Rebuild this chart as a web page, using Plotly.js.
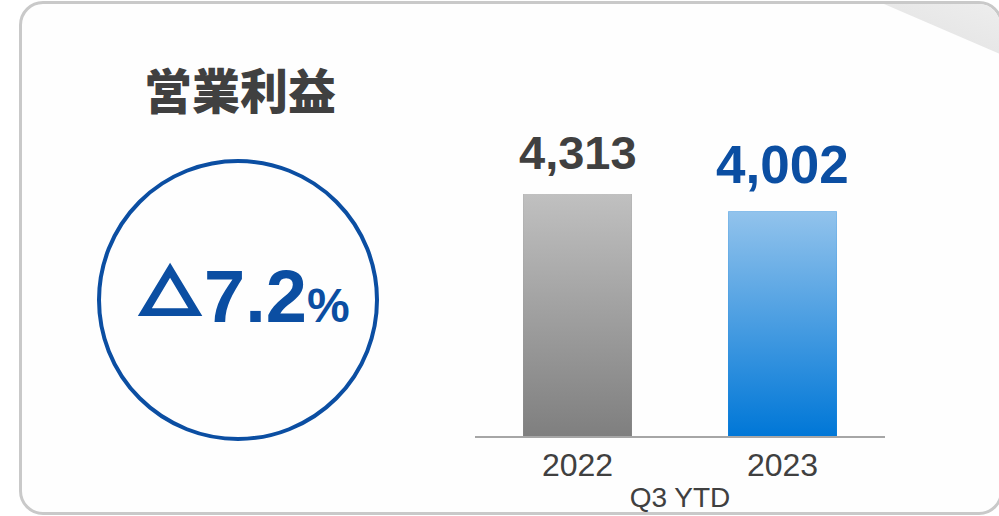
<!DOCTYPE html>
<html>
<head>
<meta charset="utf-8">
<script src="https://cdn.plot.ly/plotly-3.0.1.min.js"></script>
<style>
  html, body { margin:0; padding:0; background:#ffffff; width:999px; height:516px; overflow:hidden; }
  #card { position:absolute; left:19px; top:1px; width:984px; height:514px; box-sizing:border-box;
          border:3px solid #c9c9c9; border-radius:24px; background:#fefefe; overflow:hidden; }
  #curl { position:absolute; left:862px; top:0; width:130px; height:56px;
          clip-path: polygon(0 0, 100% 0, 100% 100%);
          background: linear-gradient(200deg, #eeeeee 0%, #e6e6e6 60%, #e0e0e0 100%); }
  #chart { position:absolute; left:0; top:0; width:999px; height:516px; }
</style>
</head>
<body>
<div id="card"><div id="curl"></div></div>
<div id="chart"></div>
<script>
// ---- data ----
const categories = ['2022', '2023'];
const values = [4313, 4002];
const chartTitle = '営業利益';
const axisTitle = 'Q3 YTD';
const changeLabel = ['△', '7.2', '%'];

// ---- styles ----
const FONT = 'Arial, "Liberation Sans", sans-serif';
const CJK = '"Noto Sans CJK JP", "Noto Sans CJK SC", sans-serif';
const BLUE = '#0b4ea2';
const DARK = '#404040';
const barTop = ['#c0c0c0', '#92c3ec'];
const barBottom = ['#7f7f7f', '#0077d7'];
const labelColors = [DARK, BLUE];
const labelSizes = [47, 53];
const labelShift = [13, 15];
const BW = 0.53;

// plot-area geometry (pixels)
const W = 999, H = 516, L = 475, R = 114, T = 120, B = 80;
const PW = W - L - R, PH = H - T - B;
const px = v => (v - L) / PW;
const py = v => (H - B - v) / PH;

const traces = [{
  type: 'bar', x: [0, 1], y: values, width: BW,
  marker: { color: barBottom, line: { width: 0 } },
  hoverinfo: 'skip', showlegend: false
}];
values.forEach((v, i) => {
  traces.push({
    type: 'scatter', mode: 'lines',
    x: [i - BW / 2, i + BW / 2, i + BW / 2, i - BW / 2, i - BW / 2],
    y: [0, 0, v, v, 0],
    fill: 'toself',
    fillgradient: { type: 'vertical', start: 0, stop: v,
                    colorscale: [[0, barBottom[i]], [1, barTop[i]]] },
    line: { width: 0 }, hoverinfo: 'skip', showlegend: false
  });
});

const annotations = values.map((v, i) => ({
  x: i, y: v, xref: 'x', yref: 'y', yanchor: 'bottom', yshift: labelShift[i],
  text: v.toLocaleString('en-US'), showarrow: false,
  font: { family: FONT, size: labelSizes[i], color: labelColors[i], weight: 'bold' }
}));
annotations.push({
  x: px(240), y: py(88), xref: 'paper', yref: 'paper', xanchor: 'center', yanchor: 'middle',
  text: chartTitle, showarrow: false,
  font: { family: CJK, size: 48, color: DARK, weight: 900 }
});
annotations.push({
  x: px(170), y: py(291), xref: 'paper', yref: 'paper', xanchor: 'center', yanchor: 'middle',
  text: changeLabel[0], showarrow: false,
  font: { family: 'Inter', size: 69, color: BLUE, weight: 'bold' }
});
annotations.push({
  x: px(202), y: py(296), xref: 'paper', yref: 'paper', xanchor: 'left', yanchor: 'middle',
  text: '<b>' + changeLabel[1] + '<span style="font-size:48px">' + changeLabel[2] + '</span></b>',
  showarrow: false,
  font: { family: FONT, size: 74, color: BLUE }
});

const layout = {
  width: W, height: H,
  margin: { l: L, r: R, t: T, b: B, pad: 0 },
  paper_bgcolor: 'rgba(0,0,0,0)', plot_bgcolor: 'rgba(0,0,0,0)',
  showlegend: false,
  xaxis: {
    range: [-0.5, 1.5], tickvals: [0, 1], ticktext: categories,
    showgrid: false, zeroline: false, showline: true, linecolor: '#a6a6a6', linewidth: 2,
    ticks: 'outside', ticklen: 0, tickcolor: 'rgba(0,0,0,0)',
    tickfont: { family: FONT, size: 32, color: DARK },
    title: { text: axisTitle, font: { family: FONT, size: 28, color: DARK }, standoff: 5 },
    fixedrange: true
  },
  yaxis: { range: [0, PH / (242 / 4313)], visible: false, fixedrange: true },
  shapes: [{
    type: 'circle', xref: 'paper', yref: 'paper',
    xsizemode: 'pixel', ysizemode: 'pixel',
    xanchor: px(238), yanchor: py(300),
    x0: -139, x1: 139, y0: -139, y1: 139,
    line: { color: BLUE, width: 4 }
  }],
  annotations: annotations
};

Plotly.newPlot('chart', traces, layout, { displayModeBar: false, staticPlot: true });
</script>
</body>
</html>
